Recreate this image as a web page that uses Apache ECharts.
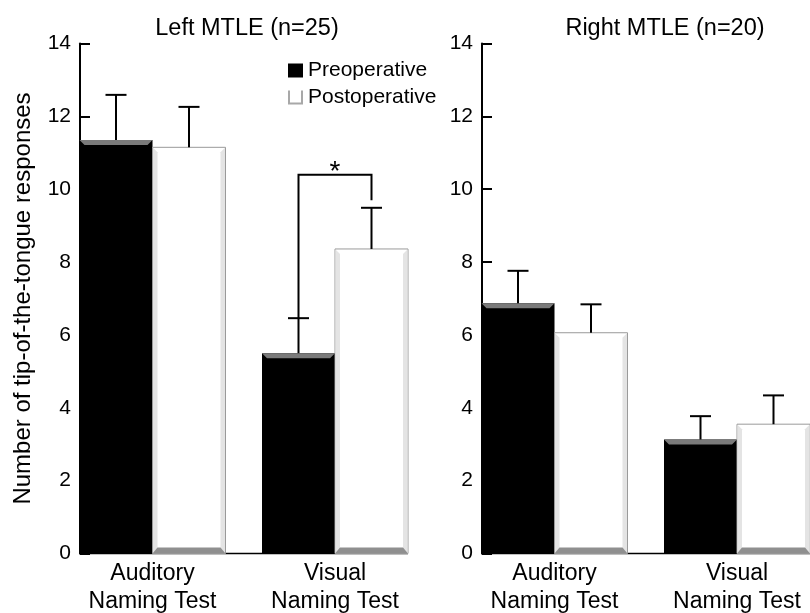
<!DOCTYPE html>
<html>
<head>
<meta charset="utf-8">
<script src="https://cdn.jsdelivr.net/npm/echarts@6/dist/echarts.min.js"></script>
<style>
html,body{margin:0;padding:0;background:#fff;}
#chart{width:810px;height:613px;}
</style>
</head>
<body>
<div id="chart"></div>
<script>
// ---- data ----
var categories = ['Auditory\nNaming Test', 'Visual\nNaming Test'];
var panelTitles = ['Left MTLE (n=25)', 'Right MTLE (n=20)'];
var leftPre = [11.35, 5.50];
var leftPreSE = [1.24, 0.96];
var leftPost = [11.15, 8.36];
var leftPostSE = [1.11, 1.13];
var rightPre = [6.87, 3.13];
var rightPreSE = [0.89, 0.64];
var rightPost = [6.06, 3.55];
var rightPostSE = [0.78, 0.79];
var yTicks = [0, 2, 4, 6, 8, 10, 12, 14];
// significance bracket (left panel, visual test): left leg bottom, bracket top, right leg bottom
var sigCategory = 1;
var sigBracket = [6.46, 10.4, 9.7];

var FONT = 'Liberation Sans, Arial, sans-serif';
var BAR_FRAC = 0.4;
var BEV = 5;

function toData(vals, ses) {
  return vals.map(function (v, i) { return [i, v, ses[i]]; });
}

function barRenderer(kind) {
  return function (params, api) {
    var idx = api.value(0), v = api.value(1), se = api.value(2);
    var band = api.size([1, 0])[0];
    var bw = band * BAR_FRAC;
    var c = api.coord([idx, 0]);
    var t = api.coord([idx, v]);
    var e = api.coord([idx, v + se]);
    var x0 = kind === 'pre' ? c[0] - bw : c[0];
    var x1 = x0 + bw;
    var y0 = c[1], y1 = t[1];
    var cx = (x0 + x1) / 2;
    var children = [];
    if (kind === 'pre') {
      children.push({type: 'rect', shape: {x: x0, y: y1, width: bw, height: y0 - y1}, style: {fill: '#000'}});
      children.push({type: 'polygon', shape: {points: [[x0, y1], [x1, y1], [x1 - BEV, y1 + BEV], [x0 + BEV, y1 + BEV]]}, style: {fill: '#7a7a7a'}});
    } else {
      children.push({type: 'rect', shape: {x: x0, y: y1, width: bw, height: y0 - y1}, style: {fill: '#fff', stroke: '#9a9a9a', lineWidth: 1}});
      children.push({type: 'polygon', shape: {points: [[x0 + 0.5, y1 + 0.5], [x0 + BEV, y1 + BEV], [x0 + BEV, y0 - BEV], [x0 + 0.5, y0]]}, style: {fill: '#e4e4e4'}});
      children.push({type: 'polygon', shape: {points: [[x1 - 0.5, y1 + 0.5], [x1 - BEV, y1 + BEV], [x1 - BEV, y0 - BEV], [x1 - 0.5, y0]]}, style: {fill: '#e4e4e4'}});
      children.push({type: 'polygon', shape: {points: [[x0, y0], [x1, y0], [x1 - BEV, y0 - BEV - 1], [x0 + BEV, y0 - BEV - 1]]}, style: {fill: '#8f8f8f'}});
    }
    // error bar
    children.push({type: 'line', shape: {x1: cx, y1: y1, x2: cx, y2: e[1]}, style: {stroke: '#000', lineWidth: 2}});
    children.push({type: 'line', shape: {x1: cx - 10.5, y1: e[1], x2: cx + 10.5, y2: e[1]}, style: {stroke: '#000', lineWidth: 2}});
    return {type: 'group', children: children};
  };
}

function baselineRenderer(params, api) {
  var band = api.size([1, 0])[0];
  var bw = band * BAR_FRAC;
  var a = api.coord([0, 0]);
  var b = api.coord([categories.length - 1, 0]);
  return {type: 'line', shape: {x1: a[0] - bw, y1: a[1], x2: b[0] + bw, y2: b[1]}, style: {stroke: '#000', lineWidth: 1.5}};
}

function sigRenderer(params, api) {
  var idx = api.value(0);
  var band = api.size([1, 0])[0];
  var bw = band * BAR_FRAC;
  var c = api.coord([idx, 0]);
  var xl = c[0] - bw / 2, xr = c[0] + bw / 2;
  var yl = api.coord([idx, api.value(1)])[1];
  var yt = api.coord([idx, api.value(2)])[1];
  var yr = api.coord([idx, api.value(3)])[1];
  return {type: 'group', children: [
    {type: 'polyline', shape: {points: [[xl, yl], [xl, yt], [xr, yt], [xr, yr]]}, style: {stroke: '#000', lineWidth: 2, fill: null}},
    {type: 'text', style: {text: '*', x: (xl + xr) / 2, y: yt - 2, align: 'center', verticalAlign: 'middle', fontSize: 28, fontFamily: FONT, fill: '#000'}}
  ]};
}

var grids = [
  {left: 61.25, top: 43.5, width: 365, height: 510, outerBoundsMode: 'none', containLabel: false},
  {left: 463.25, top: 43.5, width: 365, height: 510, outerBoundsMode: 'none', containLabel: false}
];

function xAxisFor(i) {
  return {
    type: 'category', gridIndex: i, data: categories, boundaryGap: true,
    axisLine: {show: false}, axisTick: {show: false},
    axisLabel: {fontSize: 23, color: '#000', fontFamily: FONT, lineHeight: 28, margin: 6, interval: 0}
  };
}
function yAxisFor(i) {
  var ax = {
    type: 'value', gridIndex: i, min: yTicks[0], max: yTicks[yTicks.length - 1], interval: yTicks[1] - yTicks[0],
    offset: -18.75,
    axisLine: {show: true, lineStyle: {color: '#000', width: 2}},
    axisTick: {show: true, inside: true, length: 10, lineStyle: {color: '#000', width: 2}},
    axisLabel: {fontSize: 21, color: '#000', fontFamily: FONT, margin: 9},
    splitLine: {show: false}
  };
  if (i === 0) {
    ax.name = 'Number of tip-of-the-tongue responses';
    ax.nameLocation = 'middle';
    ax.nameRotate = 90;
    ax.nameGap = 45;
    ax.nameTextStyle = {fontSize: 24, color: '#000', fontFamily: FONT};
  }
  return ax;
}

var option = {
  backgroundColor: '#fff',
  animation: false,
  title: [
    {text: panelTitles[0], left: 242, top: 12, textAlign: 'center', textStyle: {fontSize: 23.5, fontWeight: 'normal', color: '#000', fontFamily: FONT}},
    {text: panelTitles[1], left: 660, top: 12, textAlign: 'center', textStyle: {fontSize: 23.5, fontWeight: 'normal', color: '#000', fontFamily: FONT}}
  ],
  legend: {
    orient: 'vertical', left: 288, top: 60, padding: 0, itemGap: 6,
    itemWidth: 15, itemHeight: 14, selectedMode: false,
    textStyle: {fontSize: 21, color: '#000', fontFamily: FONT},
    data: [
      {name: 'Preoperative', icon: 'rect', itemStyle: {color: '#000'}},
      {name: 'Postoperative', icon: 'path://M0,0H2V12H13V0H15V14H0Z', itemStyle: {color: '#a8a8a8'}}
    ]
  },
  grid: grids,
  xAxis: [xAxisFor(0), xAxisFor(1)],
  yAxis: [yAxisFor(0), yAxisFor(1)],
  series: [
    {type: 'custom', name: 'baseline0', xAxisIndex: 0, yAxisIndex: 0, data: [[0, 0]], renderItem: baselineRenderer, silent: true, encode: {x: 0, y: 1}},
    {type: 'custom', name: 'baseline1', xAxisIndex: 1, yAxisIndex: 1, data: [[0, 0]], renderItem: baselineRenderer, silent: true, encode: {x: 0, y: 1}},
    {type: 'custom', name: 'Preoperative', xAxisIndex: 0, yAxisIndex: 0, data: toData(leftPre, leftPreSE), renderItem: barRenderer('pre'), encode: {x: 0, y: 1}, itemStyle: {color: '#000'}},
    {type: 'custom', name: 'Postoperative', xAxisIndex: 0, yAxisIndex: 0, data: toData(leftPost, leftPostSE), renderItem: barRenderer('post'), encode: {x: 0, y: 1}, itemStyle: {color: '#a8a8a8'}},
    {type: 'custom', name: 'Preoperative', xAxisIndex: 1, yAxisIndex: 1, data: toData(rightPre, rightPreSE), renderItem: barRenderer('pre'), encode: {x: 0, y: 1}, itemStyle: {color: '#000'}},
    {type: 'custom', name: 'Postoperative', xAxisIndex: 1, yAxisIndex: 1, data: toData(rightPost, rightPostSE), renderItem: barRenderer('post'), encode: {x: 0, y: 1}, itemStyle: {color: '#a8a8a8'}},
    {type: 'custom', name: 'sig', xAxisIndex: 0, yAxisIndex: 0, data: [[sigCategory, sigBracket[0], sigBracket[1], sigBracket[2]]], renderItem: sigRenderer, encode: {x: 0, y: 2}, silent: true}
  ]
};

var chart = echarts.init(document.getElementById('chart'), null, {renderer: 'canvas'});
chart.setOption(option);
</script>
</body>
</html>
